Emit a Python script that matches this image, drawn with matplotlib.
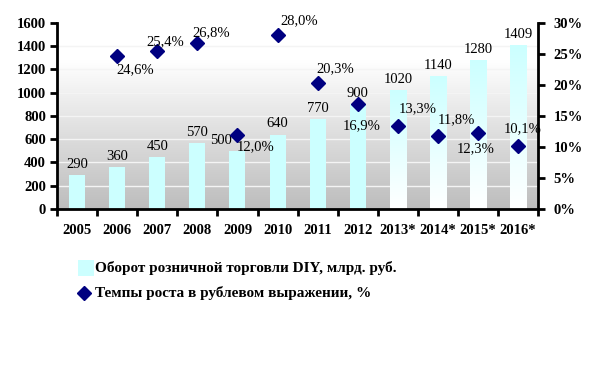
import matplotlib.pyplot as plt
import numpy as np
from matplotlib.patches import Rectangle
from matplotlib.lines import Line2D

years = ['2005', '2006', '2007', '2008', '2009', '2010', '2011', '2012',
         '2013*', '2014*', '2015*', '2016*']
turnover = [290, 360, 450, 570, 500, 640, 770, 900, 1020, 1140, 1280, 1409]
growth = [None, 24.6, 25.4, 26.8, 12.0, 28.0, 20.3, 16.9, 13.3, 11.8, 12.3, 10.1]
growth_labels = ['', '24,6%', '25,4%', '26,8%', '12,0%', '28,0%', '20,3%',
                 '16,9%', '13,3%', '11,8%', '12,3%', '10,1%']
forecast = [False] * 8 + [True] * 4

plt.rcParams['font.family'] = 'Liberation Serif'

fig = plt.figure(figsize=(6, 3.77), dpi=100)
ax = fig.add_axes([0.095, 0.446, 0.802, 0.493])
ax2 = ax.twinx()

x = np.arange(len(years))
n = len(years)

# background gradient: grey at bottom, white near top
t = np.linspace(0, 1, 256).reshape(-1, 1)
shade = 0.74 + 0.26 * np.clip(t / 0.8, 0, 1)
ax.imshow(np.dstack([shade] * 3), extent=[-0.5, n - 0.5, 0, 1600],
          origin='lower', aspect='auto', zorder=0)
for g in range(200, 1600, 200):
    ax.axhline(g, color='#F4F4F4', lw=1, zorder=1)

# bars
bw = 0.4
cyan = np.array([0.8, 1.0, 1.0])
bars = ax.bar(x, turnover, width=bw, color='#CCFFFF', zorder=2)
for b, f in zip(bars, forecast):
    if f:
        b.set_facecolor('none')
        h = b.get_height()
        tt = np.linspace(0, 1, 128)[:, None, None]
        img = np.ones(3) * (1 - tt) + cyan * tt
        x0 = b.get_x()
        im = ax.imshow(img, extent=[x0, x0 + bw, 0, h], origin='lower',
                       aspect='auto', zorder=2)
        im.set_clip_path(b)

label_dx = [0, 0, 0, 0, -0.4, 0, 0, 0, 0, 0, 0, 0]
for i, v in enumerate(turnover):
    ax.text(x[i] + label_dx[i], v + 35, str(v), ha='center', va='bottom',
            fontsize=10.5, zorder=5)

# growth markers
gx = [i for i, g in enumerate(growth) if g is not None]
gy = [g for g in growth if g is not None]
ax2.plot(gx, gy, 'D', color='#000080', markersize=7, zorder=4, linestyle='none')
offs = {1: (0.45, -2.2), 2: (0.2, 1.6), 3: (0.35, 1.6), 4: (0.45, -2.0),
        5: (0.55, 2.4), 6: (0.45, 2.4), 7: (0.1, -3.4), 8: (0.5, 2.8),
        9: (0.45, 2.6), 10: (-0.05, -2.6), 11: (0.1, 2.9)}
for i in gx:
    dx, dy = offs[i]
    ax2.text(i + dx, growth[i] + dy, growth_labels[i], ha='center', va='center',
             fontsize=10.5, zorder=5)

ax.set_xlim(-0.5, n - 0.5)
ax.set_ylim(0, 1600)
ax2.set_ylim(0, 30)

# axes styling
for a in (ax, ax2):
    a.spines['top'].set_visible(False)
    for s in ('left', 'right', 'bottom'):
        a.spines[s].set_linewidth(2)
ax.spines['right'].set_visible(False)
ax2.spines['left'].set_visible(False)
ax2.spines['bottom'].set_visible(False)

ax.set_yticks(range(0, 1601, 200))
ax.set_yticklabels([str(v) for v in range(0, 1601, 200)], fontsize=10.5, fontweight='bold')
ax2.set_yticks(range(0, 31, 5))
ax2.set_yticklabels(['%d%%' % v for v in range(0, 31, 5)], fontsize=10.5, fontweight='bold')
ax.tick_params(axis='y', direction='out', length=5, width=2, pad=3)
ax2.tick_params(axis='y', direction='out', length=5, width=2, pad=6)

ax.set_xticks(np.arange(-0.5, n, 1))
ax.set_xticklabels([])
ax.tick_params(axis='x', direction='out', length=5, width=2)
ax.set_xticks(x, minor=True)
ax.set_xticklabels(years, minor=True, fontsize=10.5, fontweight='bold')
ax.tick_params(axis='x', which='minor', length=0, pad=11)

# legend
fig.patches.append(Rectangle((0.13, 0.267), 0.027, 0.043, transform=fig.transFigure,
                             facecolor='#CCFFFF', edgecolor='none'))
fig.text(0.158, 0.289, 'Оборот розничной торговли DIY, млрд. руб.', fontsize=11,
         fontweight='bold', va='center')
fig.lines.append(Line2D([0.14], [0.223], marker='D', color='#000080', markersize=7,
                        transform=fig.transFigure))
fig.text(0.158, 0.223, 'Темпы роста в рублевом выражении, %', fontsize=11,
         fontweight='bold', va='center')

fig.savefig('out.png', dpi=100)
